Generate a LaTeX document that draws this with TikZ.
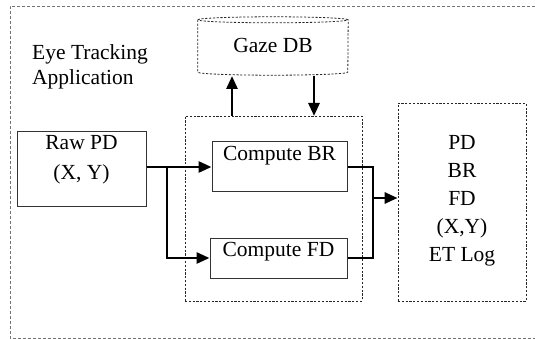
\documentclass[tikz,border=0pt]{standalone}
\usepackage{fontspec}
\setmainfont{Liberation Serif}
\usetikzlibrary{arrows.meta,calc}
\tikzset{
  solidbox/.style={draw=black!80, line width=1pt, minimum width=#1, inner sep=0pt},
  dashbox/.style={draw=black!85, line width=0.8pt, dash pattern=on 2.2pt off 1.6pt, inner sep=0pt},
  outerbox/.style={draw=black!55, line width=0.9pt, dash pattern=on 3pt off 2pt},
  lbl/.style={font=\fontsize{21.5}{28}\selectfont, inner sep=0pt, align=center},
  flow/.style={line width=2.8pt, -{Triangle[length=13pt,width=11pt]}},
  wire/.style={line width=2.8pt},
}
\begin{document}
\begin{tikzpicture}[x=1pt,y=-1pt]
  \useasboundingbox (0,0) rectangle (535,339);

  % application frame (runs off the right edge)
  \draw[outerbox] (545,6) -- (10,6) -- (10,338) -- (545,338);
  \node[lbl, align=left, anchor=west, font=\fontsize{21.5}{25}\selectfont] (app) at (32,67) {Eye Tracking\\Application};

  % gaze database cylinder
  \node[minimum width=150pt, minimum height=58pt, inner sep=0pt] (gaze) at (273,46) {};
  \draw[dashbox] (gaze.north west) ++(0,3) coordinate (gtl)
        (gtl) -- ($(gaze.south west)+(0,-3)$) arc[start angle=180, end angle=360, x radius=75pt, y radius=3pt]
        -- ($(gaze.north east)+(0,3)$)
        (gtl) arc[start angle=180, end angle=-180, x radius=75pt, y radius=3pt];
  \node[lbl] (gazetxt) at (273,45) {Gaze DB};

  % processing block
  \node[dashbox, minimum width=177pt, minimum height=185pt] (proc) at (273.5,208.5) {};
  \node[solidbox=135pt, minimum height=50pt] (br) at (279.5,167) {};
  \node[lbl] (brtxt) at (279.5,156) {Compute BR};
  \node[solidbox=137pt, minimum height=40pt] (fd) at (278.5,258) {};
  \node[lbl] (fdtxt) at (278.5,252) {Compute FD};

  % raw input
  \node[solidbox=129pt, minimum height=74pt] (raw) at (81.5,169) {};
  \node[lbl, font=\fontsize{21.5}{30}\selectfont] (rawtxt) at (81.5,160) {Raw PD\\(X, Y)};

  % outputs
  \node[dashbox, minimum width=128pt, minimum height=198pt] (out) at (462,202) {};
  \node[lbl] (outtxt) at (462,201) {PD\\BR\\FD\\(X,Y)\\ET Log};

  % split of the raw data
  \coordinate (split) at (167,167);
  \draw[wire] (raw.east |- split) -- (split);
  \draw[flow] (split) -- (br.west |- split);
  \draw[flow] (split) |- (fd.west);

  % merge into the log
  \coordinate (merge) at (373,198);
  \draw[wire] (br.east) -| (merge |- fd.east) -- (fd.east);
  \draw[flow] (merge) -- (out.west |- merge);

  % database traffic
  \draw[flow] (232,116) -- (232,76);
  \draw[flow] (314,76) -- (314,116);
\end{tikzpicture}
\end{document}
